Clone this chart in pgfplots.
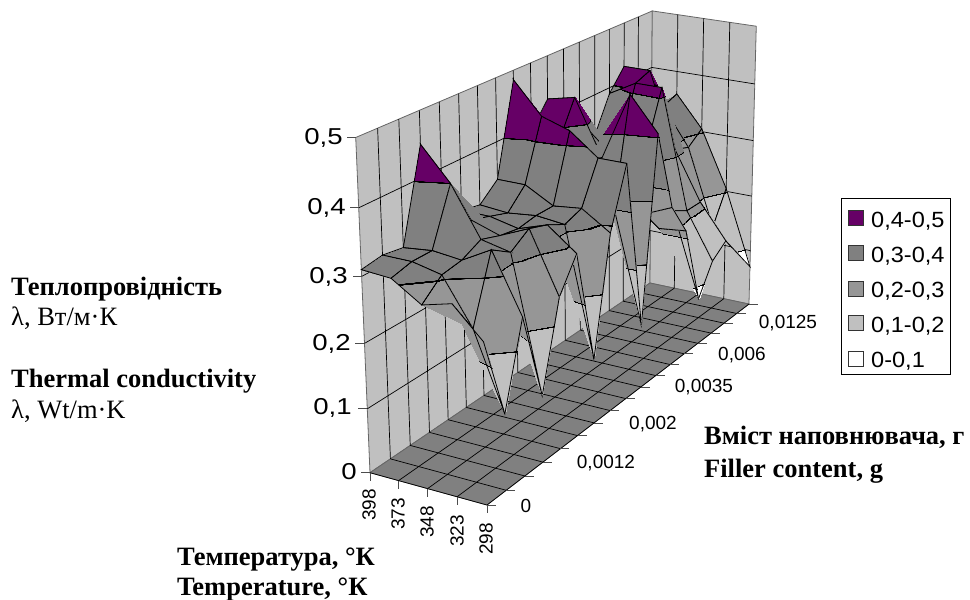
\documentclass[border=0pt]{standalone}
\usepackage{pgfplots}
\usepackage{pgfplotstable}
\pgfplotsset{compat=1.18}
\usepgfplotslibrary{patchplots}
\usepackage{fontspec}
\setmainfont{Liberation Sans}
\newfontfamily\serifb{Liberation Serif}
\definecolor{cA}{HTML}{660066}
\definecolor{cB}{HTML}{808080}
\definecolor{cC}{HTML}{969696}
\definecolor{cD}{HTML}{C0C0C0}
\def\WW{(1-0.02916*\thisrow{i}/4+0.259*\thisrow{j}/17-0.058*\thisrow{z}/0.5)}
\def\PX{(370+102.8*\thisrow{i}/4+448.35*\thisrow{j}/17-34.9*\thisrow{z}/0.5)/\WW}
\def\PY{600-(472.7+17.6*\thisrow{i}/4-116.4*\thisrow{j}/17-343.2*\thisrow{z}/0.5)/\WW}
\pgfplotstableread{
i j z
0 17 0.31
1 17 0.36
2 17 0.305
3 17 0.205
4 17 0.07
0 16 0.33
1 16 0.35
2 16 0.285
3 16 0.15
4 16 0.11
0 15 0.425
1 15 0.425
2 15 0.295
3 15 0.21
4 15 0.15
0 14 0.39
1 14 0.415
2 14 0.415
3 14 0.21
4 14 0.13
0 13 0.33
1 13 0.33
2 13 0.33
3 13 0.225
4 13 0.08
0 12 0.31
1 12 0.31
2 12 0.29
3 12 0.21
4 12 0.215
0 11 0.33
1 11 0.37
2 11 0.33
3 11 0.25
4 11 0.27
0 10 0.43
1 10 0.44
2 10 0.35
3 10 0.46
4 10 0.405
0 9 0.39
1 9 0.38
2 9 0.36
3 9 0.29
4 9 0.105
0 8 0.485
1 8 0.435
2 8 0.42
3 8 0.385
4 8 0.385
0 7 0.34
1 7 0.34
2 7 0.315
3 7 0.32
4 7 0.29
0 6 0.314
1 6 0.31
2 6 0.315
3 6 0.31
4 6 0.105
0 5 0.32
1 5 0.32
2 5 0.31
3 5 0.325
4 5 0.29
0 4 0.32
1 4 0.33
2 4 0.315
3 4 0.335
4 4 0.24
0 3 0.45
1 3 0.40
2 3 0.325
3 3 0.315
4 3 0.105
0 2 0.31
1 2 0.315
2 2 0.31
3 2 0.335
4 2 0.245
0 1 0.315
1 1 0.315
2 1 0.305
3 1 0.235
4 1 0.118
0 0 0.31
1 0 0.307
2 0 0.278
3 0 0.29
4 0 0.245
}\surfdata
\pgfplotstableread{
i j z
0 0 0
4 0 0
4 17 0
0 17 0
}\floordata
\pgfplotstableread{
i j z
0 0 0
0 17 0
0 17 0.5
0 0 0.5
}\leftwall
\pgfplotstableread{
i j z
0 17 0
4 17 0
4 17 0.5
0 17 0.5
}\backwall
\newcommand\seg[7][black]{\addplot3[#1,line width=0.7pt,forget plot] table[row sep=\\,x expr=\PX,y expr=\PY,z expr=0]{i j z\\ #2 #3 #4\\ #5 #6 #7\\};}
\newcommand\tick[5]{\addplot3[black!70,line width=0.7pt,forget plot] table[row sep=\\,x expr={\PX+\thisrow{d}*#4},y expr={\PY+\thisrow{d}*#5},z expr=0]{i j z d\\ #1 #2 #3 0\\ #1 #2 #3 1\\};}
\newcommand\lab[4][]{\node[inner sep=0pt,font=\fontsize{#2bp}{#2bp}\selectfont,#1] at (axis cs:#3,600-#4,0)}
\begin{document}
\begin{tikzpicture}
\useasboundingbox (0,0) rectangle (970bp,600bp);
\begin{axis}[at={(0,0)},anchor=south west,scale only axis,width=970bp,height=600bp,
 xmin=0,xmax=970,ymin=0,ymax=600,zmin=0,zmax=1,view={0}{90},hide axis,clip=false,
 colormap={bands}{color(0pt)=(white) color(99pt)=(white) color(99.2pt)=(black) color(100.8pt)=(black) color(101pt)=(cD)
   color(199pt)=(cD) color(199.2pt)=(black) color(200.8pt)=(black) color(201pt)=(cC)
   color(299pt)=(cC) color(299.2pt)=(black) color(300.8pt)=(black) color(301pt)=(cB)
   color(399pt)=(cB) color(399.2pt)=(black) color(400.8pt)=(black) color(401pt)=(cA) color(500pt)=(cA)},
 point meta min=0,point meta max=0.5]
\addplot3[fill=cD,draw=black!60,line width=0.8pt,forget plot] table[x expr=\PX,y expr=\PY,z expr=0] {\leftwall} -- cycle;
\addplot3[fill=cD,draw=black!60,line width=0.8pt,forget plot] table[x expr=\PX,y expr=\PY,z expr=0] {\backwall} -- cycle;
\addplot3[fill=cB,draw=black!60,line width=0.8pt,forget plot] table[x expr=\PX,y expr=\PY,z expr=0] {\floordata} -- cycle;
\pgfplotsinvokeforeach{1,...,16}{\seg{0}{#1}{0}{0}{#1}{0.5}\seg{0}{#1}{0}{4}{#1}{0}}
\pgfplotsinvokeforeach{1,2,3}{\seg{#1}{17}{0}{#1}{17}{0.5}\seg{#1}{0}{0}{#1}{17}{0}}
\pgfplotsinvokeforeach{0.1,0.2,0.3,0.4}{\seg{0}{0}{#1}{0}{17}{#1}\seg{0}{17}{#1}{4}{17}{#1}}
\seg{0}{0}{0}{4}{0}{0}
\seg{4}{0}{0}{4}{17}{0}
\pgfplotsinvokeforeach{0,0.1,0.2,0.3,0.4,0.5}{\tick{0}{0}{#1}{-9}{0}}
\pgfplotsinvokeforeach{0,1,2,3,4}{\tick{#1}{0}{0}{0}{-8}}
\pgfplotsinvokeforeach{0,...,17}{\tick{4}{#1}{0}{9}{0}}
\addplot3[surf,shader=faceted interp,faceted color=black,line width=0.8pt,z buffer=none,mesh/rows=18,mesh/cols=5,
 mesh/ordering=x varies] table[x expr=\PX,y expr=\PY,z expr=\thisrow{z},meta=z] {\surfdata};
% z tick labels
\lab[anchor=east,xscale=1.2]{23}{357}{472}{0};
\lab[anchor=east,xscale=1.2]{23}{352}{408}{0,1};
\lab[anchor=east,xscale=1.2]{23}{351}{344}{0,2};
\lab[anchor=east,xscale=1.2]{23}{348}{277}{0,3};
\lab[anchor=east,xscale=1.2]{23}{346}{208}{0,4};
\lab[anchor=east,xscale=1.2]{23}{343}{138}{0,5};
% temperature labels
\lab[rotate=90]{19}{369}{505}{398};
\lab[rotate=90]{19}{398}{514}{373};
\lab[rotate=90]{19}{427}{522}{348};
\lab[rotate=90]{19}{457}{531}{323};
\lab[rotate=90]{19}{486}{539}{298};
% filler labels
\lab{19}{526}{506}{0};
\lab{19}{606}{463}{0,0012};
\lab{19}{653}{424}{0,002};
\lab{19}{704}{387}{0,0035};
\lab{19}{742}{355}{0,006};
\lab{19}{788}{323}{0,0125};
% titles
\lab[anchor=base west]{26.5}{11}{295}{\serifb\bfseries Теплопровідність};
\lab[anchor=base west]{26.5}{11}{325}{\serifb λ, Вт/м·К};
\lab[anchor=base west]{26.5}{11}{387}{\serifb\bfseries Thermal conductivity};
\lab[anchor=base west]{26.5}{11}{418}{\serifb λ, Wt/m·K};
\lab[anchor=base west]{26.5}{704}{444}{\serifb\bfseries Вміст наповнювача, г};
\lab[anchor=base west]{26.5}{704}{477}{\serifb\bfseries Filler content, g};
\lab[anchor=base west]{26.5}{177}{565}{\serifb\bfseries Температура, °К};
\lab[anchor=base west]{26.5}{177}{595}{\serifb\bfseries Temperature, °К};
% legend
\draw[black,line width=0.7pt] (axis cs:841,402,0) rectangle (axis cs:950,226,0);
\draw[black!80,line width=0.8pt,fill=cA] (axis cs:848,374.5,0) rectangle (axis cs:863,389.5,0);
\draw[black!80,line width=0.8pt,fill=cB] (axis cs:848,339.5,0) rectangle (axis cs:863,354.5,0);
\draw[black!80,line width=0.8pt,fill=cC] (axis cs:848,303.5,0) rectangle (axis cs:863,318.5,0);
\draw[black!80,line width=0.8pt,fill=cD] (axis cs:848,269.5,0) rectangle (axis cs:863,284.5,0);
\draw[black!80,line width=0.8pt,fill=white] (axis cs:848,233.5,0) rectangle (axis cs:863,248.5,0);
\lab[anchor=base west,xscale=1.07]{22}{871}{227}{0,4-0,5};
\lab[anchor=base west,xscale=1.07]{22}{871}{262}{0,3-0,4};
\lab[anchor=base west,xscale=1.07]{22}{871}{297}{0,2-0,3};
\lab[anchor=base west,xscale=1.07]{22}{871}{332}{0,1-0,2};
\lab[anchor=base west,xscale=1.07]{22}{871}{367}{0-0,1};
\end{axis}
\end{tikzpicture}
\end{document}
